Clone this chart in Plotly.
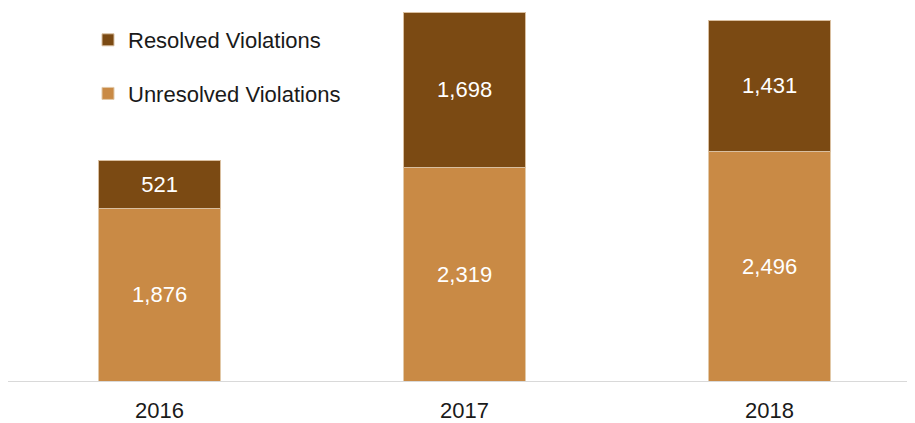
import plotly.graph_objects as go

years = ["2016", "2017", "2018"]
unresolved = [1876, 2319, 2496]
resolved = [521, 1698, 1431]

dark = "#7B4A13"
light = "#C98A45"

fig = go.Figure()
fig.add_trace(go.Bar(
    x=years, y=unresolved, name="Unresolved Violations",
    marker=dict(color=light, line=dict(color="#E2C9A8", width=1)),
    text=[f"{v:,}" for v in unresolved], textposition="inside",
    insidetextanchor="middle", textfont=dict(color="white", size=22),
    width=0.4, legendgroup="u", legendrank=2,
))
fig.add_trace(go.Bar(
    x=years, y=resolved, name="Resolved Violations",
    marker=dict(color=dark, line=dict(color="#D9BFA0", width=1)),
    text=[f"{v:,}" for v in resolved], textposition="inside",
    insidetextanchor="middle", textfont=dict(color="white", size=22),
    width=0.4, legendgroup="r", legendrank=1,
))

fig.update_layout(
    barmode="stack",
    width=915, height=423,
    margin=dict(l=0, r=0, t=4, b=50),
    paper_bgcolor="white", plot_bgcolor="white",
    font=dict(family="Liberation Sans, Arial, sans-serif", color="black"),
    legend=dict(
        x=80 / 915, y=0.981, xanchor="left", yanchor="top",
        traceorder="grouped", tracegroupgap=22,
        font=dict(size=22, color="#1a1a1a"), bgcolor="rgba(0,0,0,0)",
        itemwidth=30,
    ),
    xaxis=dict(
        type="category", range=[-0.497, 2.503],
        showline=True, linecolor="#D9D9D9", linewidth=1,
        ticks="", tickfont=dict(size=22, color="#1a1a1a"),
        ticklabelstandoff=10,
        showgrid=False,
    ),
    yaxis=dict(range=[0, 4017], visible=False, showgrid=False, zeroline=False),
)

fig.write_html("out.html")
